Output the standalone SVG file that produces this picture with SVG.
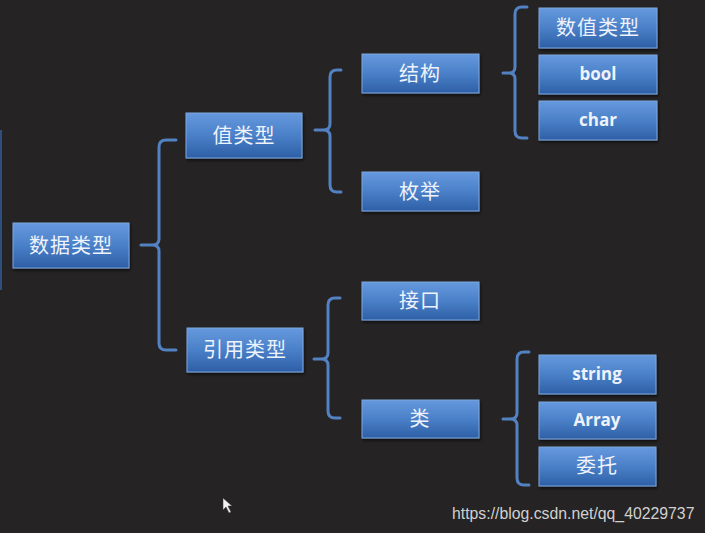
<svg xmlns="http://www.w3.org/2000/svg" width="705" height="533" viewBox="0 0 705 533">
<defs>
<linearGradient id="boxg" x1="0" y1="0" x2="0" y2="1">
<stop offset="0" stop-color="#6699de"/>
<stop offset="0.5" stop-color="#4a80c8"/>
<stop offset="1" stop-color="#2d5fa6"/>
</linearGradient>
<filter id="sh" x="-10%" y="-10%" width="125%" height="140%">
<feDropShadow dx="1" dy="2" stdDeviation="1.5" flood-color="#000" flood-opacity="0.6"/>
</filter>
</defs>
<style>
.box{fill:url(#boxg);stroke:#7fa6dc;stroke-width:1;filter:url(#sh)}
.cn{font-family:"Noto Sans CJK SC","Noto Sans",sans-serif;font-size:20px;fill:#eef3fb;text-anchor:middle;letter-spacing:1px}
.en{font-family:"Open Sans","Lato",sans-serif;font-weight:bold;font-size:17px;fill:#eef3fb;text-anchor:middle}
.br{fill:none;stroke:#5282c2;stroke-width:3;stroke-linecap:round;stroke-linejoin:round}
</style>
<rect width="705" height="533" fill="#252323"/>
<line x1="1" y1="130" x2="1" y2="290" stroke="#2c4f80" stroke-width="2"/>
<g id="connectors">
<path class="br" d="M176,140 H166 Q159,140 159,147 V239 Q159,245 152,245 H141 M152,245 Q159,245 159,251 V343 Q159,350 166,350 H176"/>
<path class="br" d="M341,70 H337 Q330,70 330,77 V124 Q330,130 323,130 H315 M323,130 Q330,130 330,136 V185 Q330,192 337,192 H341"/>
<path class="br" d="M527,7 H522 Q515,7 515,14 V67 Q515,73 509,73 H503 M509,73 Q515,73 515,79 V131 Q515,138 522,138 H527"/>
<path class="br" d="M340,298 H335 Q328,298 328,305 V353 Q328,359 321,359 H314 M321,359 Q328,359 328,365 V411 Q328,418 335,418 H340"/>
<path class="br" d="M529,352 H524 Q517,352 517,359 V413 Q517,419 510,419 H503 M510,419 Q517,419 517,425 V478 Q517,485 524,485 H529"/>
</g>
<g id="n-root"><rect class="box" x="13" y="223" width="116" height="45"/><text class="cn" x="71" y="253" font-size="21">数据类型</text></g>
<g id="n-value"><rect class="box" x="186" y="113" width="116" height="45"/><text class="cn" x="244" y="143">值类型</text></g>
<g id="n-ref"><rect class="box" x="187" y="328" width="116" height="44"/><text class="cn" x="245" y="357">引用类型</text></g>
<g id="n-struct"><rect class="box" x="362" y="54" width="117" height="39"/><text class="cn" x="420" y="81">结构</text></g>
<g id="n-enum"><rect class="box" x="362" y="172" width="117" height="39"/><text class="cn" x="420" y="199">枚举</text></g>
<g id="n-iface"><rect class="box" x="362" y="282" width="117" height="38"/><text class="cn" x="420" y="308">接口</text></g>
<g id="n-class"><rect class="box" x="362" y="400" width="117" height="38"/><text class="cn" x="420" y="426">类</text></g>
<g id="n-num"><rect class="box" x="539" y="8" width="118" height="40"/><text class="cn" x="598" y="35">数值类型</text></g>
<g id="n-bool"><rect class="box" x="539" y="55" width="118" height="39"/><text class="en" x="598" y="80">bool</text></g>
<g id="n-char"><rect class="box" x="539" y="101" width="118" height="39"/><text class="en" x="598" y="126">char</text></g>
<g id="n-string"><rect class="box" x="539" y="355" width="117" height="39"/><text class="en" x="597" y="380">string</text></g>
<g id="n-array"><rect class="box" x="539" y="402" width="117" height="37"/><text class="en" x="597" y="426">Array</text></g>
<g id="n-delegate"><rect class="box" x="539" y="447" width="117" height="39"/><text class="cn" x="597" y="473">委托</text></g>
<path d="M223,498 L223,510 L226,507 L229,513 L231,512 L228,506 L232,506 Z" fill="#f2f2f2" stroke="#333" stroke-width="0.5"/>
<text x="452" y="519" font-family="Liberation Sans, Arial, sans-serif" font-size="15.8" fill="#d0d0d0">https://blog.csdn.net/qq_40229737</text>
</svg>
